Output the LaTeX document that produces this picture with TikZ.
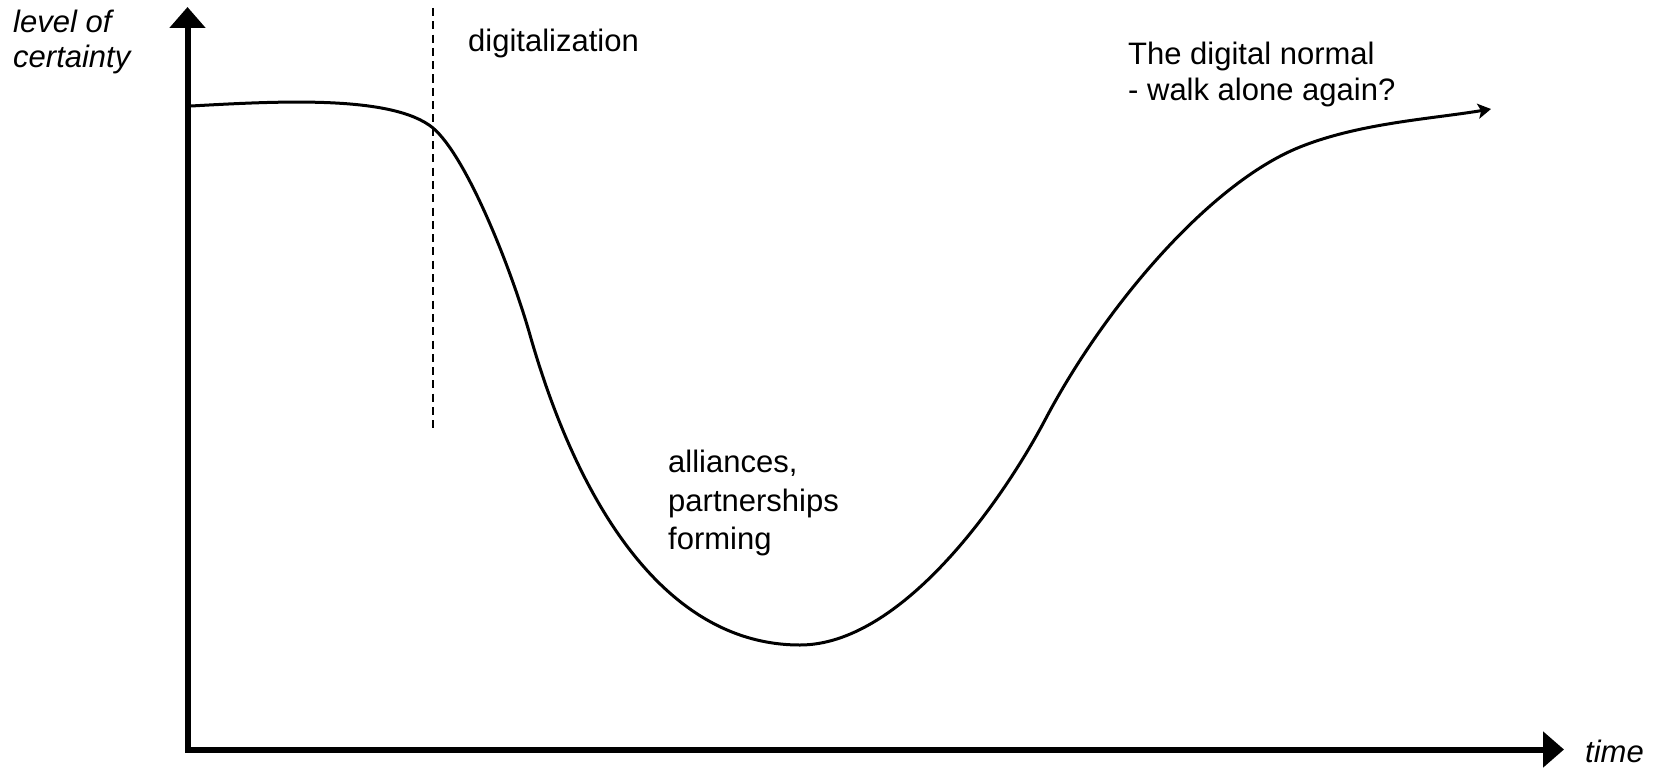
\documentclass[tikz,border=0pt]{standalone}
\usepackage{fontspec}
\setmainfont{Liberation Sans}
\usetikzlibrary{arrows.meta}
\begin{document}
\begin{tikzpicture}[x=1pt,y=-1pt,
  axisline/.style={line width=6pt,line join=miter,
    {Triangle[length=21pt,width=35pt]}-{Triangle[length=21pt,width=35pt]}},
  curveline/.style={line width=3pt,line cap=round,
    -{Stealth[length=13pt,width=15pt,inset=3pt]}},
  markerline/.style={line width=1.5pt,dash pattern=on 8pt off 5.3pt},
  lbl/.style={inner sep=0pt,font=\fontsize{31}{36}\selectfont,align=left},
  axislbl/.style={lbl,font=\fontsize{31}{35}\selectfont\itshape}]
\useasboundingbox (0,0) rectangle (1662,768);

% axes
\coordinate (ytop) at (187.5,7);
\coordinate (origin) at (187.5,749.5);
\coordinate (xend) at (1564,749.5);
\draw[axisline] (ytop) -- (origin) -- (xend);

% start of the digital shift
\coordinate (mtop) at (433,8);
\coordinate (mbot) at (433,432);
\draw[markerline] (mtop) -- (mbot);

% certainty over time: plateau, drop, trough, recovery
\coordinate (c0) at (191,106);
\coordinate (c1) at (433,128);
\coordinate (c2) at (530,335);
\coordinate (c3) at (800,645);
\coordinate (c4) at (1045,420);
\coordinate (c5) at (1300,147);
\coordinate (c6) at (1491,109);
\draw[curveline] (c0)
  .. controls (280,101) and (393,95) .. (c1)
  .. controls (466,156) and (510,265) .. (c2)
  .. controls (575,493) and (660,645) .. (c3)
  .. controls (900,645) and (1000,505) .. (c4)
  .. controls (1105,306) and (1210,183) .. (c5)
  .. controls (1360,123) and (1431,119) .. (c6);

% labels
\node[axislbl,anchor=north west] (ylabel) at (13,10) {level of\\certainty};
\node[axislbl,anchor=base west] (xlabel) at (1585,762) {time};
\node[lbl,anchor=base west] (digi) at (468,52) {digitalization};
\node[lbl,anchor=north west] (normal) at (1128,42) {The digital normal\\- walk alone again?};
\node[lbl,anchor=north west,font=\fontsize{31}{38.5}\selectfont] (alli) at (668,450) {alliances,\\partnerships\\forming};
\end{tikzpicture}
\end{document}
